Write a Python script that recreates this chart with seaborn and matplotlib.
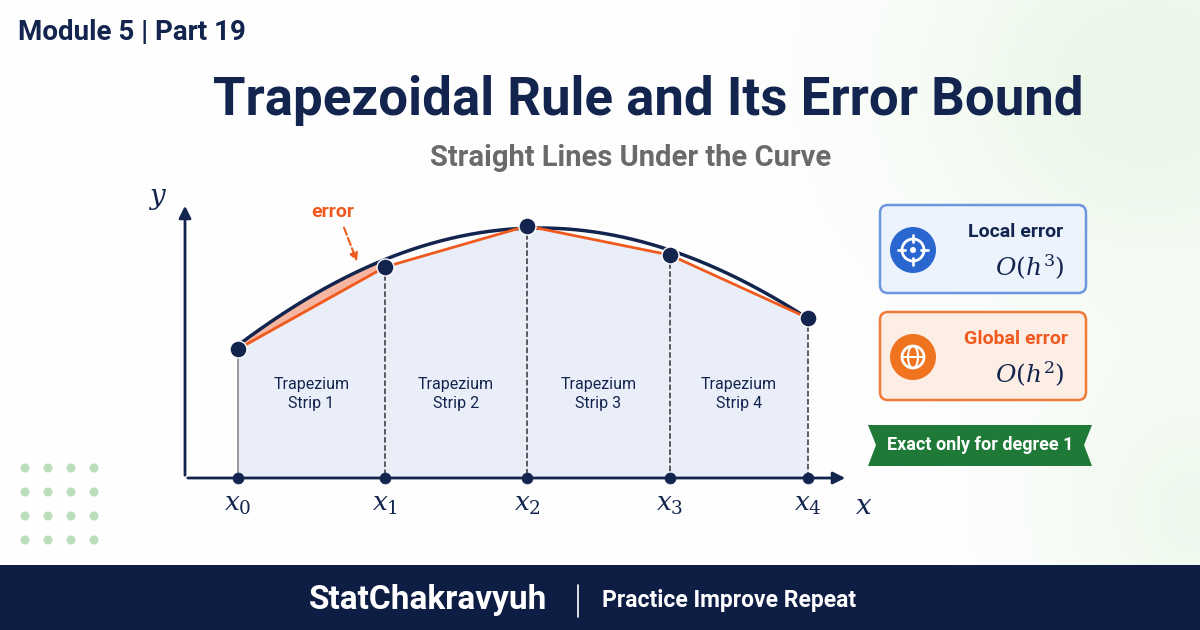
import matplotlib
matplotlib.use("Agg")
import matplotlib.pyplot as plt
import numpy as np
import pandas as pd
import seaborn as sns
from matplotlib.patches import FancyBboxPatch, Circle, Polygon, Ellipse

sns.set_style("white")
plt.rcParams["font.family"] = ["Roboto", "DejaVu Sans"]
plt.rcParams["mathtext.fontset"] = "dejavuserif"

NAVY = "#13254f"
ORANGE = "#f05a1e"

# node positions (pixel space of the canvas)
node_x = [238, 385, 527, 670, 808]
node_y = [349, 267, 226, 255, 318]
node_labels = ["$x_0$", "$x_1$", "$x_2$", "$x_3$", "$x_4$"]
strip_labels = ["Trapezium\nStrip 1", "Trapezium\nStrip 2", "Trapezium\nStrip 3", "Trapezium\nStrip 4"]
# samples
curve_x = [238, 270, 310, 350, 385, 450, 527, 600, 670, 740, 808]
curve_y = [349, 318, 293, 276, 265, 240, 224, 232, 252, 280, 318]
axis_y = 478

fig = plt.figure(figsize=(12, 6.3), dpi=100)
ax = fig.add_axes([0, 0, 1, 1])
ax.set_xlim(0, 1200)
ax.set_ylim(630, 0)
ax.axis("off")

# soft green background glow on the right
gx, gy = np.meshgrid(np.linspace(0, 1200, 300), np.linspace(0, 630, 160))
glow = np.exp(-((gx - 1150) ** 2 / 250 ** 2 + (gy - 80) ** 2 / 220 ** 2)) * 0.8
glow2 = np.exp(-((gx - 1200) ** 2 + (gy - 520) ** 2) / 170 ** 2) * 0.6
img = np.ones((160, 300, 3))
g = np.clip(glow + glow2, 0, 1)[..., None]
img = img * (1 - g) + np.array([0.90, 0.96, 0.89]) * g
ax.imshow(img, extent=[0, 1200, 630, 0], aspect="auto", zorder=0)

# headings
ax.text(18, 33, "Module 5 | Part 19", fontsize=20, fontweight="bold", color=NAVY, va="center")
ax.text(648, 100, "Trapezoidal Rule and Its Error Bound", fontsize=38, fontweight="bold",
        color=NAVY, ha="center", va="center")
ax.text(631, 158, "Straight Lines Under the Curve", fontsize=21, fontweight="bold",
        color="#6a6a6a", ha="center", va="center")

# smooth curve through the samples
coef = np.polyfit(curve_x, curve_y, 4)
cx = np.linspace(node_x[0], node_x[-1], 300)
cy = np.polyval(coef, cx)
curve = pd.DataFrame({"x": cx, "y": cy})

# trapezium fill
poly = list(zip(node_x, node_y)) + [(node_x[-1], axis_y), (node_x[0], axis_y)]
ax.add_patch(Polygon(poly, closed=True, fc="#e9eef8", ec="none", zorder=1))

# error region strip 1
m = cx <= node_x[1]
chord = np.interp(cx[m], node_x[:2], node_y[:2])
ax.fill_between(cx[m], cy[m], chord, color="#f4a890", alpha=0.85, zorder=2)

sns.lineplot(data=curve, x="x", y="y", ax=ax, color=NAVY, lw=2.5, zorder=3, sort=False)
sns.lineplot(x=node_x, y=node_y, ax=ax, color=ORANGE, lw=2, zorder=4)

# verticals
ax.plot([node_x[0]] * 2, [node_y[0], axis_y], color="#888888", lw=1.2, zorder=2)
for x, y in zip(node_x[1:], node_y[1:]):
    ax.plot([x, x], [y, axis_y], color="#333333", lw=1.1, ls="--", zorder=2)

# axes arrows
ax.annotate("", xy=(185, 203), xytext=(185, axis_y),
            arrowprops=dict(arrowstyle="-|>", color=NAVY, lw=2, mutation_scale=18))
ax.annotate("", xy=(848, axis_y), xytext=(185, axis_y),
            arrowprops=dict(arrowstyle="-|>", color=NAVY, lw=2, mutation_scale=18))
ax.text(158, 198, "$y$", fontsize=20, color=NAVY, ha="center", va="center")
ax.text(864, 507, "$x$", fontsize=20, color=NAVY, ha="center", va="center")

sns.scatterplot(x=node_x, y=node_y, ax=ax, color=NAVY, s=150, zorder=5, edgecolor="white", linewidth=1)
sns.scatterplot(x=node_x, y=[axis_y] * 5, ax=ax, color=NAVY, s=60, zorder=5, edgecolor=None)
for x, lab in zip(node_x, node_labels):
    ax.text(x, 505, lab, fontsize=19, color=NAVY, ha="center", va="center")
for i, lab in enumerate(strip_labels):
    xm = (node_x[i] + node_x[i + 1]) / 2
    ax.text(xm, 394, lab, fontsize=11.5, color=NAVY, ha="center", va="center", linespacing=1.3)

ax.text(333, 212, "error", fontsize=14, fontweight="bold", color=ORANGE, ha="center", va="center")
ax.annotate("", xy=(358, 264), xytext=(343, 225),
            arrowprops=dict(arrowstyle="-|>", color=ORANGE, lw=1.5, ls="--", mutation_scale=12))

# info boxes
boxes = [
    (205, "#edf3fc", "#6a97dd", "#2a66d0", "Local error", NAVY, "$O(h^3)$", "target"),
    (312, "#fdeee5", "#f07a3a", "#f0731f", "Global error", ORANGE, "$O(h^2)$", "globe"),
]
for top, fc, ec, ic, t1, c1, t2, kind in boxes:
    ax.add_patch(FancyBboxPatch((880, top), 206, 88, boxstyle="round,pad=0,rounding_size=8",
                                fc=fc, ec=ec, lw=1.8, zorder=3))
    cyc = top + 45
    ax.add_patch(Circle((913, cyc), 23, fc=ic, ec="none", zorder=4))
    ax.add_patch(Circle((913, cyc), 11, fc="none", ec="white", lw=2, zorder=5))
    if kind == "target":
        ax.add_patch(Circle((913, cyc), 3, fc="white", ec="none", zorder=5))
        for dx, dy in [(0, 1), (0, -1), (1, 0), (-1, 0)]:
            ax.plot([913 + dx * 8, 913 + dx * 15], [cyc + dy * 8, cyc + dy * 15],
                    color="white", lw=2, zorder=5)
    else:
        ax.add_patch(Ellipse((913, cyc), 10, 22, fc="none", ec="white", lw=1.5, zorder=5))
        ax.plot([902, 924], [cyc, cyc], color="white", lw=1.5, zorder=5)
    ax.text(1016, top + 27, t1, fontsize=14, fontweight="bold", color=c1, ha="center", va="center")
    ax.text(1030, top + 62, t2, fontsize=18, color=NAVY, ha="center", va="center")

ax.add_patch(Polygon([(868, 425), (1092, 425), (1084, 445), (1092, 466), (868, 466), (876, 445)],
                     closed=True, fc="#1f7a37", ec="none", zorder=3))
ax.text(980, 445, "Exact only for degree 1", fontsize=13, fontweight="bold", color="white",
        ha="center", va="center", zorder=4)

# dots decoration
for cxd in [25, 48, 71, 94]:
    for cyd in [468, 492, 516, 540]:
        ax.add_patch(Circle((cxd, cyd), 4.5, fc="#b9dcb9", ec="none", zorder=1))

# footer
ax.add_patch(plt.Rectangle((0, 565), 1200, 65, fc="#0e1d44", ec="none", zorder=6))
ax.text(428, 600, "StatChakravyuh", fontsize=24, fontweight="bold", color="white",
        ha="center", va="center", zorder=7)
ax.plot([578, 578], [585, 617], color="white", lw=1.2, zorder=7)
ax.text(729, 600, "Practice Improve Repeat", fontsize=16.5, fontweight="bold", color="white",
        ha="center", va="center", zorder=7)

fig.savefig("out.png", dpi=100)
